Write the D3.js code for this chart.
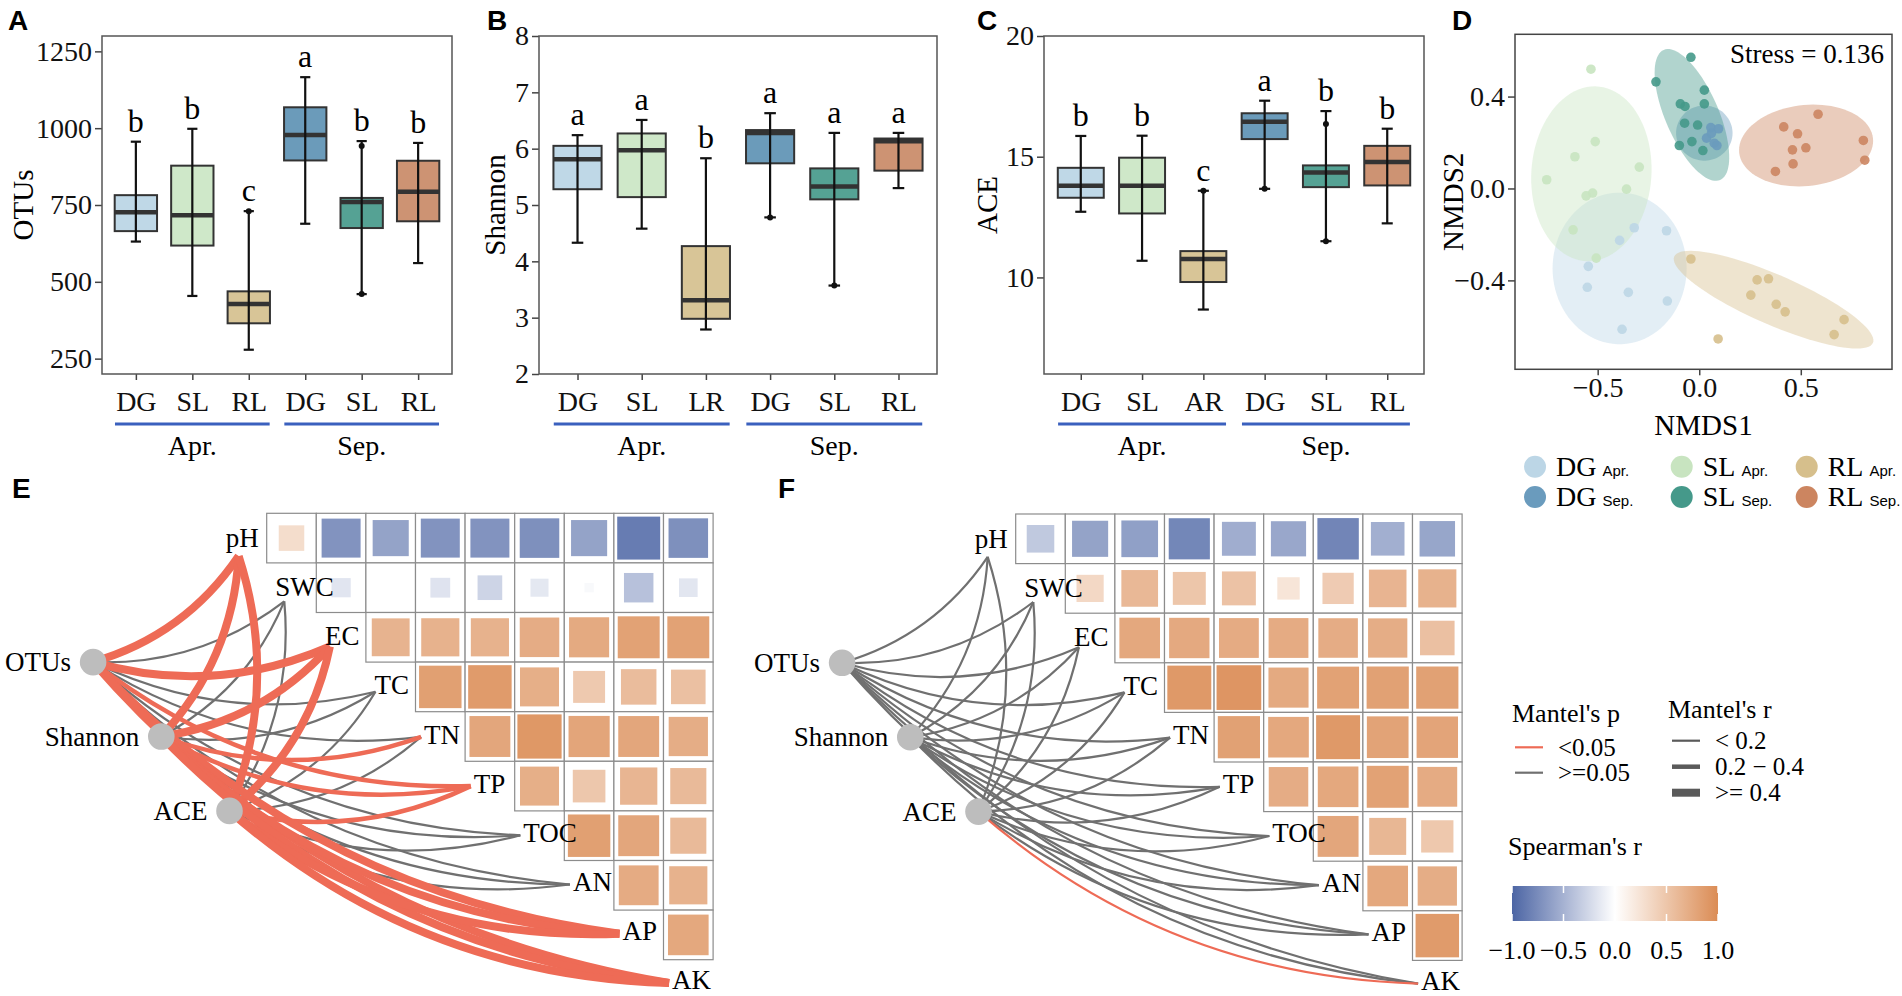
<!DOCTYPE html>
<html>
<head>
<meta charset="utf-8">
<script src="https://cdn.jsdelivr.net/npm/d3@7"></script>
<style>
body { margin: 0; background: #fff; }
svg { display: block; font-family: "Liberation Serif", "Times New Roman", serif; }
</style>
</head>
<body>
<div id="c"></div>
<script>
"use strict";

// ---------- A-C : alpha diversity box plots ----------
const boxColors = ["#bfd8e7", "#cfe8c9", "#d8c597", "#6b9bba", "#55a294", "#cd9373"]
const otuLabels = ["DG", "SL", "RL", "DG", "SL", "RL"]
const shannonLabels = ["DG", "SL", "LR", "DG", "SL", "RL"]
const aceLabels = ["DG", "SL", "AR", "DG", "SL", "RL"]
const monthGroups = ["Apr.", "Sep."]

// [lower whisker, q1, median, q3, upper whisker]
const otuStats = [[631, 665, 726, 782, 956], [454, 618, 717, 878, 998], [279, 365, 428, 469, 730],
                  [689, 895, 978, 1068, 1166], [460, 675, 760, 773, 958], [561, 697, 793, 894, 952]]
const otuLetters = ["b", "b", "c", "a", "b", "b"]
const otuOutliers = [[2, 730], [4, 942], [4, 460]]
const otuTicks = [250, 500, 750, 1000, 1250]

const shannonStats = [[4.33, 5.28, 5.81, 6.05, 6.24], [4.58, 5.14, 5.97, 6.27, 6.51], [2.79, 2.98, 3.31, 4.27, 5.83],
                      [4.78, 5.74, 6.28, 6.33, 6.63], [3.57, 5.10, 5.33, 5.65, 6.28], [5.30, 5.61, 6.13, 6.18, 6.28]]
const shannonLetters = ["a", "a", "b", "a", "a", "a"]
const shannonOutliers = [[3, 4.78], [4, 3.57]]
const shannonTicks = [2, 3, 4, 5, 6, 7, 8]

const aceStats = [[12.72, 13.30, 13.80, 14.54, 15.86], [10.69, 12.65, 13.80, 14.96, 15.87], [8.67, 9.81, 10.76, 11.09, 13.59],
                  [13.67, 15.73, 16.45, 16.80, 17.32], [11.50, 13.74, 14.35, 14.64, 16.89], [12.24, 13.81, 14.78, 15.45, 16.16]]
const aceLetters = ["b", "b", "c", "a", "b", "b"]
const aceOutliers = [[2, 13.59], [3, 13.67], [4, 16.35], [4, 11.50]]
const aceTicks = [10, 15, 20]

// ---------- D : NMDS ----------
const nmdsGroups = ["DG Apr.", "SL Apr.", "RL Apr.", "DG Sep.", "SL Sep.", "RL Sep."]
const nmdsColors = ["#bcd6e6", "#c8e4c0", "#d6bf8c", "#6a9bbd", "#45998a", "#cc8560"]
const dgAprPts = [[-0.161, -0.184], [-0.320, -0.171], [-0.392, -0.226], [-0.546, -0.339], [-0.551, -0.430],
                  [-0.349, -0.452], [-0.157, -0.490], [-0.380, -0.613]]
const slAprPts = [[-0.533, 0.519], [-0.512, 0.204], [-0.612, 0.138], [-0.295, 0.093], [-0.751, 0.038],
                  [-0.358, -0.003], [-0.525, -0.020], [-0.557, -0.032], [-0.621, -0.180], [-0.507, -0.303]]
const rlAprPts = [[-0.041, -0.307], [0.285, -0.398], [0.341, -0.393], [0.254, -0.464], [0.379, -0.504],
                  [0.423, -0.537], [0.713, -0.571], [0.664, -0.636], [0.093, -0.655]]
const dgSepPts = [[0.057, 0.265], [0.095, 0.260], [0.036, 0.219], [0.074, 0.197], [0.087, 0.187], [0.060, 0.240]]
const slSepPts = [[-0.041, 0.571], [-0.213, 0.464], [0.025, 0.428], [-0.093, 0.368], [-0.070, 0.357], [0.025, 0.368],
                  [-0.072, 0.284], [-0.008, 0.276], [-0.098, 0.187], [-0.036, 0.204], [0.018, 0.165]]
const rlSepPts = [[0.585, 0.323], [0.416, 0.268], [0.484, 0.238], [0.808, 0.209], [0.459, 0.168],
                  [0.525, 0.177], [0.815, 0.123], [0.462, 0.107], [0.375, 0.074]]
// ellipse: centre, semi-axis a, semi-axis b (data units)
const nmdsEllipses = [
    [[-0.392, -0.348], [0.33, 0], [0, 0.33]],
    [[-0.531, 0.064], [0.295, -0.017], [0.029, 0.38]],
    [[0.366, -0.484], [0.489, -0.188], [-0.049, -0.0996]],
    [[0.025, 0.241], [0.139, 0], [0, 0.12]],
    [[-0.036, 0.320], [0.139, -0.283], [0.120, 0.0465]],
    [[0.526, 0.187], [0.33, 0.02], [0, 0.177]]
]
const nmdsTicksX = [-0.5, 0, 0.5]
const nmdsTicksY = [-0.4, 0, 0.4]

// ---------- E, F : Mantel + Spearman ----------
const envVars = ["pH", "SWC", "EC", "TC", "TN", "TP", "TOC", "AN", "AP", "AK"]
const specVars = ["OTUs", "Shannon", "ACE"]

const spearmanE = [
    [0.30, -0.70, -0.60, -0.70, -0.70, -0.72, -0.60, -0.85, -0.72],
    [-0.17, 0.00, -0.18, -0.28, -0.15, -0.04, -0.40, -0.16],
    [0.66, 0.67, 0.67, 0.72, 0.74, 0.81, 0.81],
    [0.83, 0.87, 0.70, 0.47, 0.58, 0.55],
    [0.77, 0.90, 0.78, 0.77, 0.71],
    [0.70, 0.49, 0.64, 0.60],
    [0.83, 0.77, 0.60],
    [0.73, 0.67],
    [0.76]
]
const spearmanF = [
    [-0.35, -0.60, -0.62, -0.78, -0.53, -0.57, -0.79, -0.52, -0.58],
    [0.34, 0.62, 0.50, 0.53, 0.23, 0.45, 0.65, 0.67],
    [0.76, 0.75, 0.73, 0.73, 0.72, 0.71, 0.55],
    [0.89, 0.92, 0.74, 0.81, 0.82, 0.82],
    [0.82, 0.76, 0.89, 0.80, 0.79],
    [0.72, 0.76, 0.81, 0.73],
    [0.77, 0.63, 0.48],
    [0.76, 0.71],
    [0.87]
]
const mantelRE = [
    [0.45, 0.10, 0.45, 0.10, 0.10, 0.30, 0.10, 0.10, 0.45, 0.45],
    [0.45, 0.10, 0.45, 0.10, 0.30, 0.30, 0.10, 0.10, 0.45, 0.45],
    [0.45, 0.10, 0.45, 0.10, 0.10, 0.30, 0.10, 0.10, 0.45, 0.45]
]
const mantelPE = [
    [0.01, 0.30, 0.01, 0.40, 0.20, 0.02, 0.30, 0.50, 0.001, 0.001],
    [0.01, 0.40, 0.01, 0.30, 0.03, 0.02, 0.40, 0.30, 0.001, 0.001],
    [0.01, 0.50, 0.01, 0.20, 0.30, 0.03, 0.20, 0.40, 0.001, 0.001]
]
const mantelRF = [
    [0.10, 0.10, 0.10, 0.10, 0.10, 0.10, 0.10, 0.10, 0.10, 0.10],
    [0.10, 0.10, 0.10, 0.10, 0.10, 0.10, 0.10, 0.10, 0.10, 0.10],
    [0.10, 0.10, 0.10, 0.10, 0.10, 0.10, 0.10, 0.10, 0.10, 0.12]
]
const mantelPF = [
    [0.40, 0.30, 0.50, 0.60, 0.40, 0.30, 0.50, 0.40, 0.20, 0.30],
    [0.50, 0.40, 0.30, 0.40, 0.60, 0.50, 0.30, 0.40, 0.30, 0.20],
    [0.30, 0.50, 0.40, 0.30, 0.50, 0.40, 0.60, 0.30, 0.20, 0.04]
]
const legendTicks = [-1, -0.5, 0, 0.5, 1]

const serif = "Liberation Serif, Times New Roman, serif"
const sans = "Liberation Sans, Arial, sans-serif"
const redLine = "#ee6b56", greyLine = "#707070"

let svg

window.onload = function() {
    svg = d3.select("#c").append("svg").attr("width", 1902).attr("height", 996)
    svg.append("rect").attr("width", 1902).attr("height", 996).attr("fill", "#fff")

    panelLetter("A", 8, 30)
    panelLetter("B", 487, 30)
    panelLetter("C", 977, 30)
    panelLetter("D", 1452, 30)
    panelLetter("E", 12, 498)
    panelLetter("F", 778, 498)

    boxPanel({left: 102, right: 452, top: 36, bottom: 374, domain: [200, 1300], ticks: otuTicks,
        stats: otuStats, letters: otuLetters, labels: otuLabels, outliers: otuOutliers, title: "OTUs", titleX: 23})
    boxPanel({left: 539, right: 937, top: 36, bottom: 374, domain: [2, 8], ticks: shannonTicks,
        stats: shannonStats, letters: shannonLetters, labels: shannonLabels, outliers: shannonOutliers, title: "Shannon", titleX: 495})
    boxPanel({left: 1044, right: 1424, top: 36, bottom: 374, domain: [6, 20], ticks: aceTicks,
        stats: aceStats, letters: aceLetters, labels: aceLabels, outliers: aceOutliers, title: "ACE", titleX: 987})

    nmdsPanel()

    mantelPanel({left: 266.7, top: 513.3, spear: spearmanE, r: mantelRE, p: mantelPE})
    mantelPanel({left: 1015.7, top: 514, spear: spearmanF, r: mantelRF, p: mantelPF})
    mantelLegend()
}

function panelLetter(t, x, y) {
    svg.append("text").attr("x", x).attr("y", y).text(t)
        .attr("font-family", sans).attr("font-weight", "bold").attr("font-size", 28)
}

function styleAxis(g) {
    g.attr("font-family", serif).attr("font-size", 28)
    g.select(".domain").remove()
    g.selectAll(".tick line").attr("stroke", "#444").attr("stroke-width", 1.5)
    g.selectAll(".tick text").attr("fill", "#111")
}

function boxPanel(p) {
    let g = svg.append("g")
    let x = d3.scalePoint().domain(d3.range(6)).range([p.left, p.right]).padding(0.6)
    let y = d3.scaleLinear().domain(p.domain).range([p.bottom, p.top])
    const step = x.step(), bw = step * 0.75, cap = step * 0.09

    g.append("g").attr("transform", "translate(" + p.left + ",0)")
        .call(d3.axisLeft(y).tickValues(p.ticks).tickSize(7).tickPadding(3).tickFormat(d3.format("d")))
        .call(styleAxis)
    g.append("g").attr("transform", "translate(0," + p.bottom + ")")
        .call(d3.axisBottom(x).tickSize(6).tickPadding(11).tickFormat(i => p.labels[i]))
        .call(styleAxis)

    p.stats.forEach((s, i) => {
        const cx = x(i)
        g.append("rect")
            .attr("x", cx - bw / 2).attr("y", y(s[3]))
            .attr("width", bw).attr("height", y(s[1]) - y(s[3]))
            .attr("fill", boxColors[i]).attr("stroke", "#333").attr("stroke-width", 2)
        g.append("line")
            .attr("x1", cx - bw / 2).attr("x2", cx + bw / 2)
            .attr("y1", y(s[2])).attr("y2", y(s[2]))
            .attr("stroke", "#333").attr("stroke-width", 4.5)
        g.append("line")
            .attr("x1", cx).attr("x2", cx).attr("y1", y(s[0])).attr("y2", y(s[4]))
            .attr("stroke", "#111").attr("stroke-width", 2.2)
        ;[s[0], s[4]].forEach(v => {
            g.append("line")
                .attr("x1", cx - cap).attr("x2", cx + cap).attr("y1", y(v)).attr("y2", y(v))
                .attr("stroke", "#111").attr("stroke-width", 2.2)
        })
        g.append("text")
            .attr("x", cx).attr("y", y(s[4]) - 10)
            .attr("text-anchor", "middle").attr("font-size", 32)
            .text(p.letters[i])
    })

    g.selectAll("circle.out").data(p.outliers).enter()
        .append("circle")
            .attr("cx", d => x(d[0])).attr("cy", d => y(d[1]))
            .attr("r", 3).attr("fill", "#111")

    g.append("rect")
        .attr("x", p.left).attr("y", p.top)
        .attr("width", p.right - p.left).attr("height", p.bottom - p.top)
        .attr("fill", "none").attr("stroke", "#555").attr("stroke-width", 1.5)

    g.append("text")
        .attr("transform", "translate(" + p.titleX + "," + (p.top + p.bottom) / 2 + ") rotate(-90)")
        .attr("text-anchor", "middle").attr("dominant-baseline", "central")
        .attr("font-size", 29).text(p.title)

    // month grouping under the x axis
    monthGroups.forEach((m, k) => {
        const a = x(k * 3), b = x(k * 3 + 2)
        g.append("line")
            .attr("x1", a - 0.37 * step).attr("x2", b + 0.37 * step)
            .attr("y1", 424).attr("y2", 424)
            .attr("stroke", "#3a60be").attr("stroke-width", 3)
        g.append("text")
            .attr("x", (a + b) / 2).attr("y", 455)
            .attr("text-anchor", "middle").attr("font-size", 28)
            .text(m)
    })
}

function nmdsPanel() {
    const left = 1515, right = 1892, top = 34.3, bottom = 369.3
    let g = svg.append("g")
    let x = d3.scaleLinear().domain([-0.907, 0.949]).range([left, right])
    let y = d3.scaleLinear().domain([-0.787, 0.671]).range([bottom, top])
    const fmt = d3.format(".1f")

    g.append("g").attr("transform", "translate(" + left + ",0)")
        .call(d3.axisLeft(y).tickValues(nmdsTicksY).tickSize(7).tickPadding(3).tickFormat(fmt))
        .call(styleAxis)
    g.append("g").attr("transform", "translate(0," + bottom + ")")
        .call(d3.axisBottom(x).tickValues(nmdsTicksX).tickSize(6).tickPadding(2).tickFormat(fmt))
        .call(styleAxis)

    const line = d3.line().x(d => x(d[0])).y(d => y(d[1])).curve(d3.curveLinearClosed)
    nmdsEllipses.forEach((e, i) => {
        const pts = d3.range(0, 360, 4).map(t => {
            const a = t * Math.PI / 180
            return [e[0][0] + e[1][0] * Math.cos(a) + e[2][0] * Math.sin(a),
                    e[0][1] + e[1][1] * Math.cos(a) + e[2][1] * Math.sin(a)]
        })
        g.append("path").attr("d", line(pts))
            .attr("fill", nmdsColors[i]).attr("fill-opacity", 0.42).attr("stroke", "none")
    })

    const allPts = [dgAprPts, slAprPts, rlAprPts, dgSepPts, slSepPts, rlSepPts]
    allPts.forEach((pts, i) => {
        g.append("g").selectAll("circle").data(pts).enter()
            .append("circle")
                .attr("cx", d => x(d[0])).attr("cy", d => y(d[1]))
                .attr("r", 4.8).attr("fill", nmdsColors[i]).attr("fill-opacity", 0.9)
    })

    g.append("rect")
        .attr("x", left).attr("y", top).attr("width", right - left).attr("height", bottom - top)
        .attr("fill", "none").attr("stroke", "#444").attr("stroke-width", 1.5)

    g.append("text").attr("x", 1884).attr("y", 63).attr("text-anchor", "end")
        .attr("font-size", 27).text("Stress = 0.136")
    g.append("text").attr("x", (left + right) / 2).attr("y", 435).attr("text-anchor", "middle")
        .attr("font-size", 29).text("NMDS1")
    g.append("text")
        .attr("transform", "translate(1453," + (top + bottom) / 2 + ") rotate(-90)")
        .attr("text-anchor", "middle").attr("dominant-baseline", "central")
        .attr("font-size", 29).text("NMDS2")

    // legend: three columns (DG, SL, RL), two rows (Apr., Sep.)
    const colX = [1535, 1681.7, 1806.7], rowY = [466.7, 497]
    nmdsGroups.forEach((name, i) => {
        const cx = colX[i % 3], cy = rowY[Math.floor(i / 3)]
        const parts = name.split(" ")
        g.append("circle").attr("cx", cx).attr("cy", cy).attr("r", 11).attr("fill", nmdsColors[i])
        let t = g.append("text").attr("x", cx + 21).attr("y", cy + 9).attr("font-size", 28)
        t.append("tspan").text(parts[0])
        t.append("tspan").attr("dx", 6).attr("font-size", 15).attr("font-family", sans).text(parts[1])
    })
}

const spearColor = d3.scaleLinear().domain([-1, 0, 1]).range(["#4c65a4", "#ffffff", "#db8c55"])
const lineWidth = r => r < 0.2 ? 2.2 : (r < 0.4 ? 4.5 : 8)

function mantelPanel(p) {
    const cell = 49.6
    let g = svg.append("g")
    let gx = d3.scaleLinear().domain([0, 9]).range([p.left, p.left + 9 * cell])
    let gy = d3.scaleLinear().domain([0, 9]).range([p.top, p.top + 9 * cell])
    const nodeGX = [-3.5, -2.125, -0.75], nodeGY = [3, 4.5, 6]

    // correlation squares
    p.spear.forEach((row, i) => {
        row.forEach((r, n) => {
            const j = i + n
            g.append("rect")
                .attr("x", gx(j)).attr("y", gy(i)).attr("width", cell).attr("height", cell)
                .attr("fill", "#fff").attr("stroke", "#8c8c8c").attr("stroke-width", 1.2)
            const side = (cell - 3) * Math.sqrt(Math.abs(r))
            g.append("rect")
                .attr("x", gx(j + 0.5) - side / 2).attr("y", gy(i + 0.5) - side / 2)
                .attr("width", side).attr("height", side)
                .attr("fill", spearColor(r))
        })
    })

    // links
    let edges = []
    specVars.forEach((s, si) => envVars.forEach((e, k) => {
        edges.push({si: si, k: k, r: p.r[si][k], p: p.p[si][k]})
    }))
    edges.sort((a, b) => b.p - a.p)
    edges.forEach(e => {
        const x0 = gx(nodeGX[e.si]), y0 = gy(nodeGY[e.si])
        const s = Math.max(0, 4 - e.k)
        const x1 = gx(e.k) - 44 + s * 4, y1 = gy(e.k + 0.5) + 2 + s * 4 - e.k * 0.4
        const dx = x1 - x0, dy = y1 - y0
        const qx = (x0 + x1) / 2 - 0.18 * dy, qy = (y0 + y1) / 2 + 0.18 * dx
        g.append("path")
            .attr("d", "M" + x0 + "," + y0 + "Q" + qx + "," + qy + " " + x1 + "," + y1)
            .attr("fill", "none")
            .attr("stroke", e.p < 0.05 ? redLine : greyLine)
            .attr("stroke-width", lineWidth(e.r))
    })

    // environment labels on the diagonal
    envVars.forEach((v, k) => {
        g.append("text").attr("x", gx(k) - 41).attr("y", gy(k + 0.5) - k * 0.5)
            .attr("dominant-baseline", "central").attr("font-size", 27).text(v)
    })

    // spec nodes
    specVars.forEach((v, i) => {
        const cx = gx(nodeGX[i]), cy = gy(nodeGY[i])
        g.append("circle").attr("cx", cx).attr("cy", cy).attr("r", 13.3).attr("fill", "#bdbdbd")
        g.append("text").attr("x", cx - 22).attr("y", cy).attr("text-anchor", "end")
            .attr("dominant-baseline", "central").attr("font-size", 27).text(v)
    })
}

function mantelLegend() {
    let g = svg.append("g").attr("font-size", 25)
    g.append("text").attr("x", 1512).attr("y", 722).attr("font-size", 26).text("Mantel's p")
    const pItems = [["<0.05", redLine], [">=0.05", greyLine]]
    pItems.forEach((d, i) => {
        const yy = 747.3 + i * 25.4
        g.append("line").attr("x1", 1515).attr("x2", 1543).attr("y1", yy).attr("y2", yy)
            .attr("stroke", d[1]).attr("stroke-width", 2.2)
        g.append("text").attr("x", 1558).attr("y", yy).attr("dominant-baseline", "central").text(d[0])
    })

    g.append("text").attr("x", 1668).attr("y", 718).attr("font-size", 26).text("Mantel's r")
    const rItems = [["< 0.2", 0.1], ["0.2 \u2212 0.4", 0.3], [">= 0.4", 0.45]]
    rItems.forEach((d, i) => {
        const yy = 740.7 + i * 26
        g.append("line").attr("x1", 1672).attr("x2", 1700).attr("y1", yy).attr("y2", yy)
            .attr("stroke", "#5a5a5a").attr("stroke-width", lineWidth(d[1]))
        g.append("text").attr("x", 1715).attr("y", yy).attr("dominant-baseline", "central").text(d[0])
    })

    g.append("text").attr("x", 1508).attr("y", 855).attr("font-size", 26).text("Spearman's r")

    let x = d3.scaleLinear().domain([-1, 1]).range([1512, 1718])
    let grad = svg.append("defs").append("linearGradient").attr("id", "spearGrad")
    legendTicks.forEach(v => {
        grad.append("stop").attr("offset", ((v + 1) / 2 * 100) + "%").attr("stop-color", spearColor(v))
    })
    g.append("rect").attr("x", x(-1)).attr("y", 886).attr("width", x(1) - x(-1)).attr("height", 35)
        .attr("fill", "url(#spearGrad)")
    legendTicks.forEach(v => {
        ;[[886, 893], [914, 921]].forEach(t => {
            g.append("line").attr("x1", x(v)).attr("x2", x(v)).attr("y1", t[0]).attr("y2", t[1])
                .attr("stroke", "#fff").attr("stroke-width", 1.5)
        })
        g.append("text").attr("x", x(v)).attr("y", 950).attr("text-anchor", "middle")
            .attr("dominant-baseline", "central").attr("font-size", 26).text(d3.format(".1f")(v))
    })
}
</script>
</body>
</html>
